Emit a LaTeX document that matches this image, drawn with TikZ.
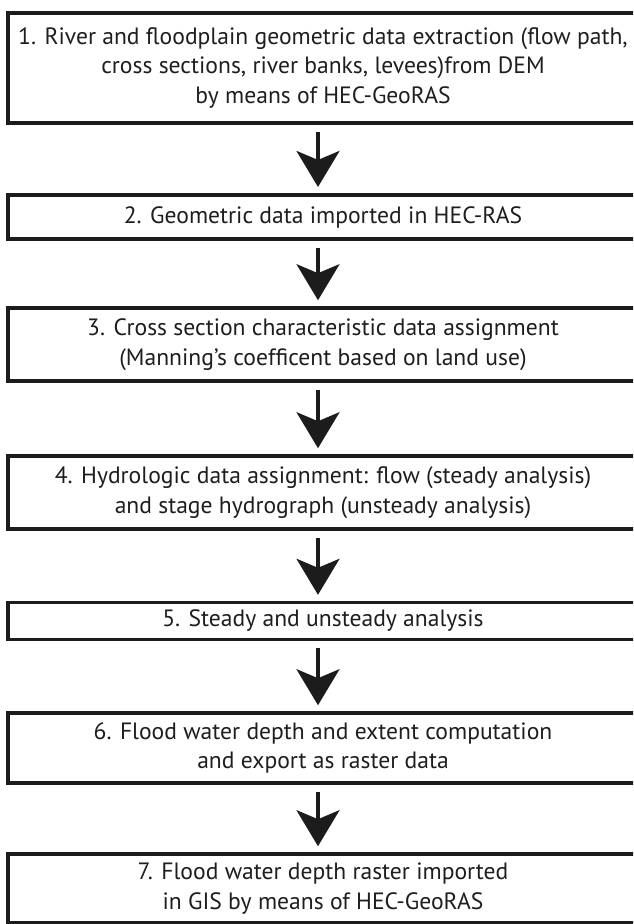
\documentclass[tikz,border=0pt]{standalone}
\usepackage{fontspec}
\setmainfont{PT Sans}
\usetikzlibrary{arrows.meta}
\definecolor{ink}{HTML}{1C1C1C}
\definecolor{txt}{HTML}{1E1E1E}
\begin{document}
\begin{tikzpicture}[x=1pt,y=-1pt,
  stepbox/.style={draw=ink, line width=3.6pt, minimum width=630pt, inner sep=0pt, align=center,
    text=txt, font=\fontsize{23.6}{29.5}\selectfont, fill=white},
  flowarrow/.style={draw=ink, line width=3.4pt, -{Stealth[length=36pt,width=43pt,inset=9pt]}}]
\useasboundingbox (0,0) rectangle (633,924);
\begin{scope}
\clip (0,0) rectangle (633,924);
\node[stepbox, minimum height=110pt] (b1) at (323,67.7) {1. River and floodplain geometric data extraction (flow path,\\cross sections, river banks, levees)from DEM\\by means of HEC-GeoRAS};
\node[stepbox, minimum height=44.5pt] (b2) at (323,217) {2. Geometric data imported in HEC-RAS};
\node[stepbox, minimum height=73pt] (b3) at (323,344.5) {3. Cross section characteristic data assignment\\(Manning’s coefficent based on land use)};
\node[stepbox, minimum height=73pt] (b4) at (323,492.5) {4. Hydrologic data assignment: flow (steady analysis)\\and stage hydrograph (unsteady analysis)};
\node[stepbox, minimum height=36.8pt] (b5) at (323,621) {5. Steady and unsteady analysis};
\node[stepbox, minimum height=70pt] (b6) at (323,748) {6. Flood water depth and extent computation\\and export as raster data};
\node[stepbox, minimum height=69pt] (b7) at (323,888.5) {7. Flood water depth raster imported\\in GIS by means of HEC-GeoRAS};
\coordinate (ax) at (318,0);
\foreach \a/\b in {b1/b2,b2/b3,b3/b4,b4/b5,b5/b6,b6/b7}{
  \draw[flowarrow] ([yshift=-7pt]\a.south -| ax) -- ([yshift=6pt]\b.north -| ax);
}
\end{scope}
\end{tikzpicture}
\end{document}
